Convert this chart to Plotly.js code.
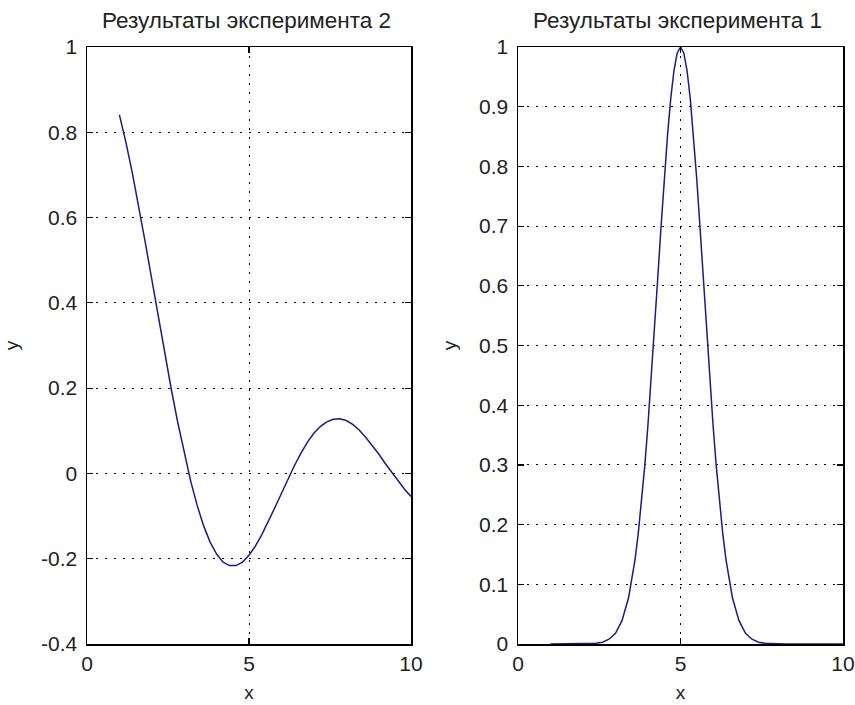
<!DOCTYPE html>
<html>
<head>
<meta charset="utf-8">
<script src="https://cdn.plot.ly/plotly-3.0.1.min.js"></script>
<style>html,body{margin:0;padding:0;background:#fff;} #plot{width:855px;height:705px;}</style>
</head>
<body>
<div id="plot"></div>
<script>
// Experiment 2 (left panel)
const x2 = [1.0,1.2,1.4,1.6,1.8,2.0,2.2,2.4,2.6,2.8,3.0,3.2,3.4,3.6,3.8,4.0,4.2,4.4,4.6,4.8,5.0,5.2,5.4,5.6,5.8,6.0,6.2,6.4,6.6,6.8,7.0,7.2,7.4,7.6,7.8,8.0,8.2,8.4,8.6,8.8,9.0,9.2,9.4,9.6,9.8,10.0];
const y2 = [0.841,0.777,0.704,0.625,0.541,0.455,0.368,0.281,0.198,0.120,0.047,-0.018,-0.075,-0.123,-0.161,-0.189,-0.208,-0.216,-0.216,-0.208,-0.192,-0.170,-0.143,-0.113,-0.080,-0.047,-0.013,0.018,0.047,0.073,0.094,0.110,0.121,0.127,0.128,0.124,0.115,0.102,0.085,0.066,0.046,0.024,0.003,-0.018,-0.037,-0.054];
// Experiment 1 (right panel)
const x1 = [1.0,1.2,1.4,1.6,1.8,2.0,2.2,2.4,2.6,2.8,3.0,3.2,3.4,3.6,3.7,3.8,3.9,4.0,4.1,4.2,4.3,4.4,4.5,4.6,4.7,4.8,4.9,5.0,5.1,5.2,5.3,5.4,5.5,5.6,5.7,5.8,5.9,6.0,6.1,6.2,6.3,6.4,6.6,6.8,7.0,7.2,7.4,7.6,7.8,8.0,8.2,8.4,8.6,8.8,9.0,9.2,9.4,9.6,9.8,10.0];
const y1 = [0,0,0,0,0,0.0001,0.0004,0.0012,0.003,0.008,0.018,0.039,0.077,0.141,0.185,0.237,0.298,0.368,0.445,0.527,0.613,0.698,0.779,0.852,0.914,0.961,0.990,1.0,0.990,0.961,0.914,0.852,0.779,0.698,0.613,0.527,0.445,0.368,0.298,0.237,0.185,0.141,0.077,0.039,0.018,0.008,0.003,0.0012,0.0004,0.0001,0,0,0,0,0,0,0,0,0,0];

const titleLeft = 'Результаты эксперимента 2';
const titleRight = 'Результаты эксперимента 1';
const xTicks = [0, 5, 10];
const yTicksLeft = [-0.4, -0.2, 0, 0.2, 0.4, 0.6, 0.8, 1];
const yTicksLeftText = ['-0.4', '-0.2', '0', '0.2', '0.4', '0.6', '0.8', '1'];
const yTicksRight = [0, 0.1, 0.2, 0.3, 0.4, 0.5, 0.6, 0.7, 0.8, 0.9, 1];
const yTicksRightText = ['0', '0.1', '0.2', '0.3', '0.4', '0.5', '0.6', '0.7', '0.8', '0.9', '1'];

const FONT = 'Liberation Sans, Arial, sans-serif';
const lineColor = '#1c1c84';

const axisCommon = {
  showline: true, linecolor: '#000', linewidth: 1.5, mirror: 'allticks',
  ticks: 'inside', ticklen: 6, tickcolor: '#000', tickwidth: 1.2,
  showgrid: true, gridcolor: '#000', gridwidth: 1, griddash: '2px,7px',
  zeroline: false, automargin: false, fixedrange: true,
  tickfont: {family: FONT, size: 21, color: '#222'}
};

const traces = [
  {x: x2, y: y2, type: 'scatter', mode: 'lines', line: {color: lineColor, width: 1.5}, xaxis: 'x', yaxis: 'y', hoverinfo: 'skip'},
  {x: x1, y: y1, type: 'scatter', mode: 'lines', line: {color: lineColor, width: 1.5}, xaxis: 'x2', yaxis: 'y2', hoverinfo: 'skip'}
];

const layout = {
  width: 855, height: 705,
  margin: {l: 0, r: 0, t: 0, b: 0},
  paper_bgcolor: '#fff', plot_bgcolor: '#fff',
  showlegend: false,
  xaxis: Object.assign({}, axisCommon, {
    domain: [87/855, 411/855], range: [0, 10], tickvals: xTicks, ticktext: ['0','5','10'],
    anchor: 'y', title: {text: 'x', font: {family: FONT, size: 19, color: '#222'}, standoff: 12}
  }),
  yaxis: Object.assign({}, axisCommon, {
    domain: [1 - 644/705, 1 - 47/705], range: [-0.4, 1], tickvals: yTicksLeft, ticktext: yTicksLeftText,
    anchor: 'x', ticklabelstandoff: 4, title: {text: 'y', font: {family: FONT, size: 19, color: '#222'}, standoff: 17}
  }),
  xaxis2: Object.assign({}, axisCommon, {
    domain: [518/855, 843/855], range: [0, 10], tickvals: xTicks, ticktext: ['0','5','10'],
    anchor: 'y2', title: {text: 'x', font: {family: FONT, size: 19, color: '#222'}, standoff: 12}
  }),
  yaxis2: Object.assign({}, axisCommon, {
    domain: [1 - 644/705, 1 - 47/705], range: [0, 1], tickvals: yTicksRight, ticktext: yTicksRightText,
    anchor: 'x2', ticklabelstandoff: 4, title: {text: 'y', font: {family: FONT, size: 19, color: '#222'}, standoff: 17}
  }),
  annotations: [
    {text: titleLeft, xref: 'paper', yref: 'paper', x: 247/855, y: 1 - 20/705, xanchor: 'center', yanchor: 'middle', showarrow: false, font: {family: FONT, size: 22.5, color: '#222'}},
    {text: titleRight, xref: 'paper', yref: 'paper', x: 677/855, y: 1 - 20/705, xanchor: 'center', yanchor: 'middle', showarrow: false, font: {family: FONT, size: 22.5, color: '#222'}}
  ]
};

Plotly.newPlot('plot', traces, layout, {displayModeBar: false, staticPlot: true});
</script>
</body>
</html>
